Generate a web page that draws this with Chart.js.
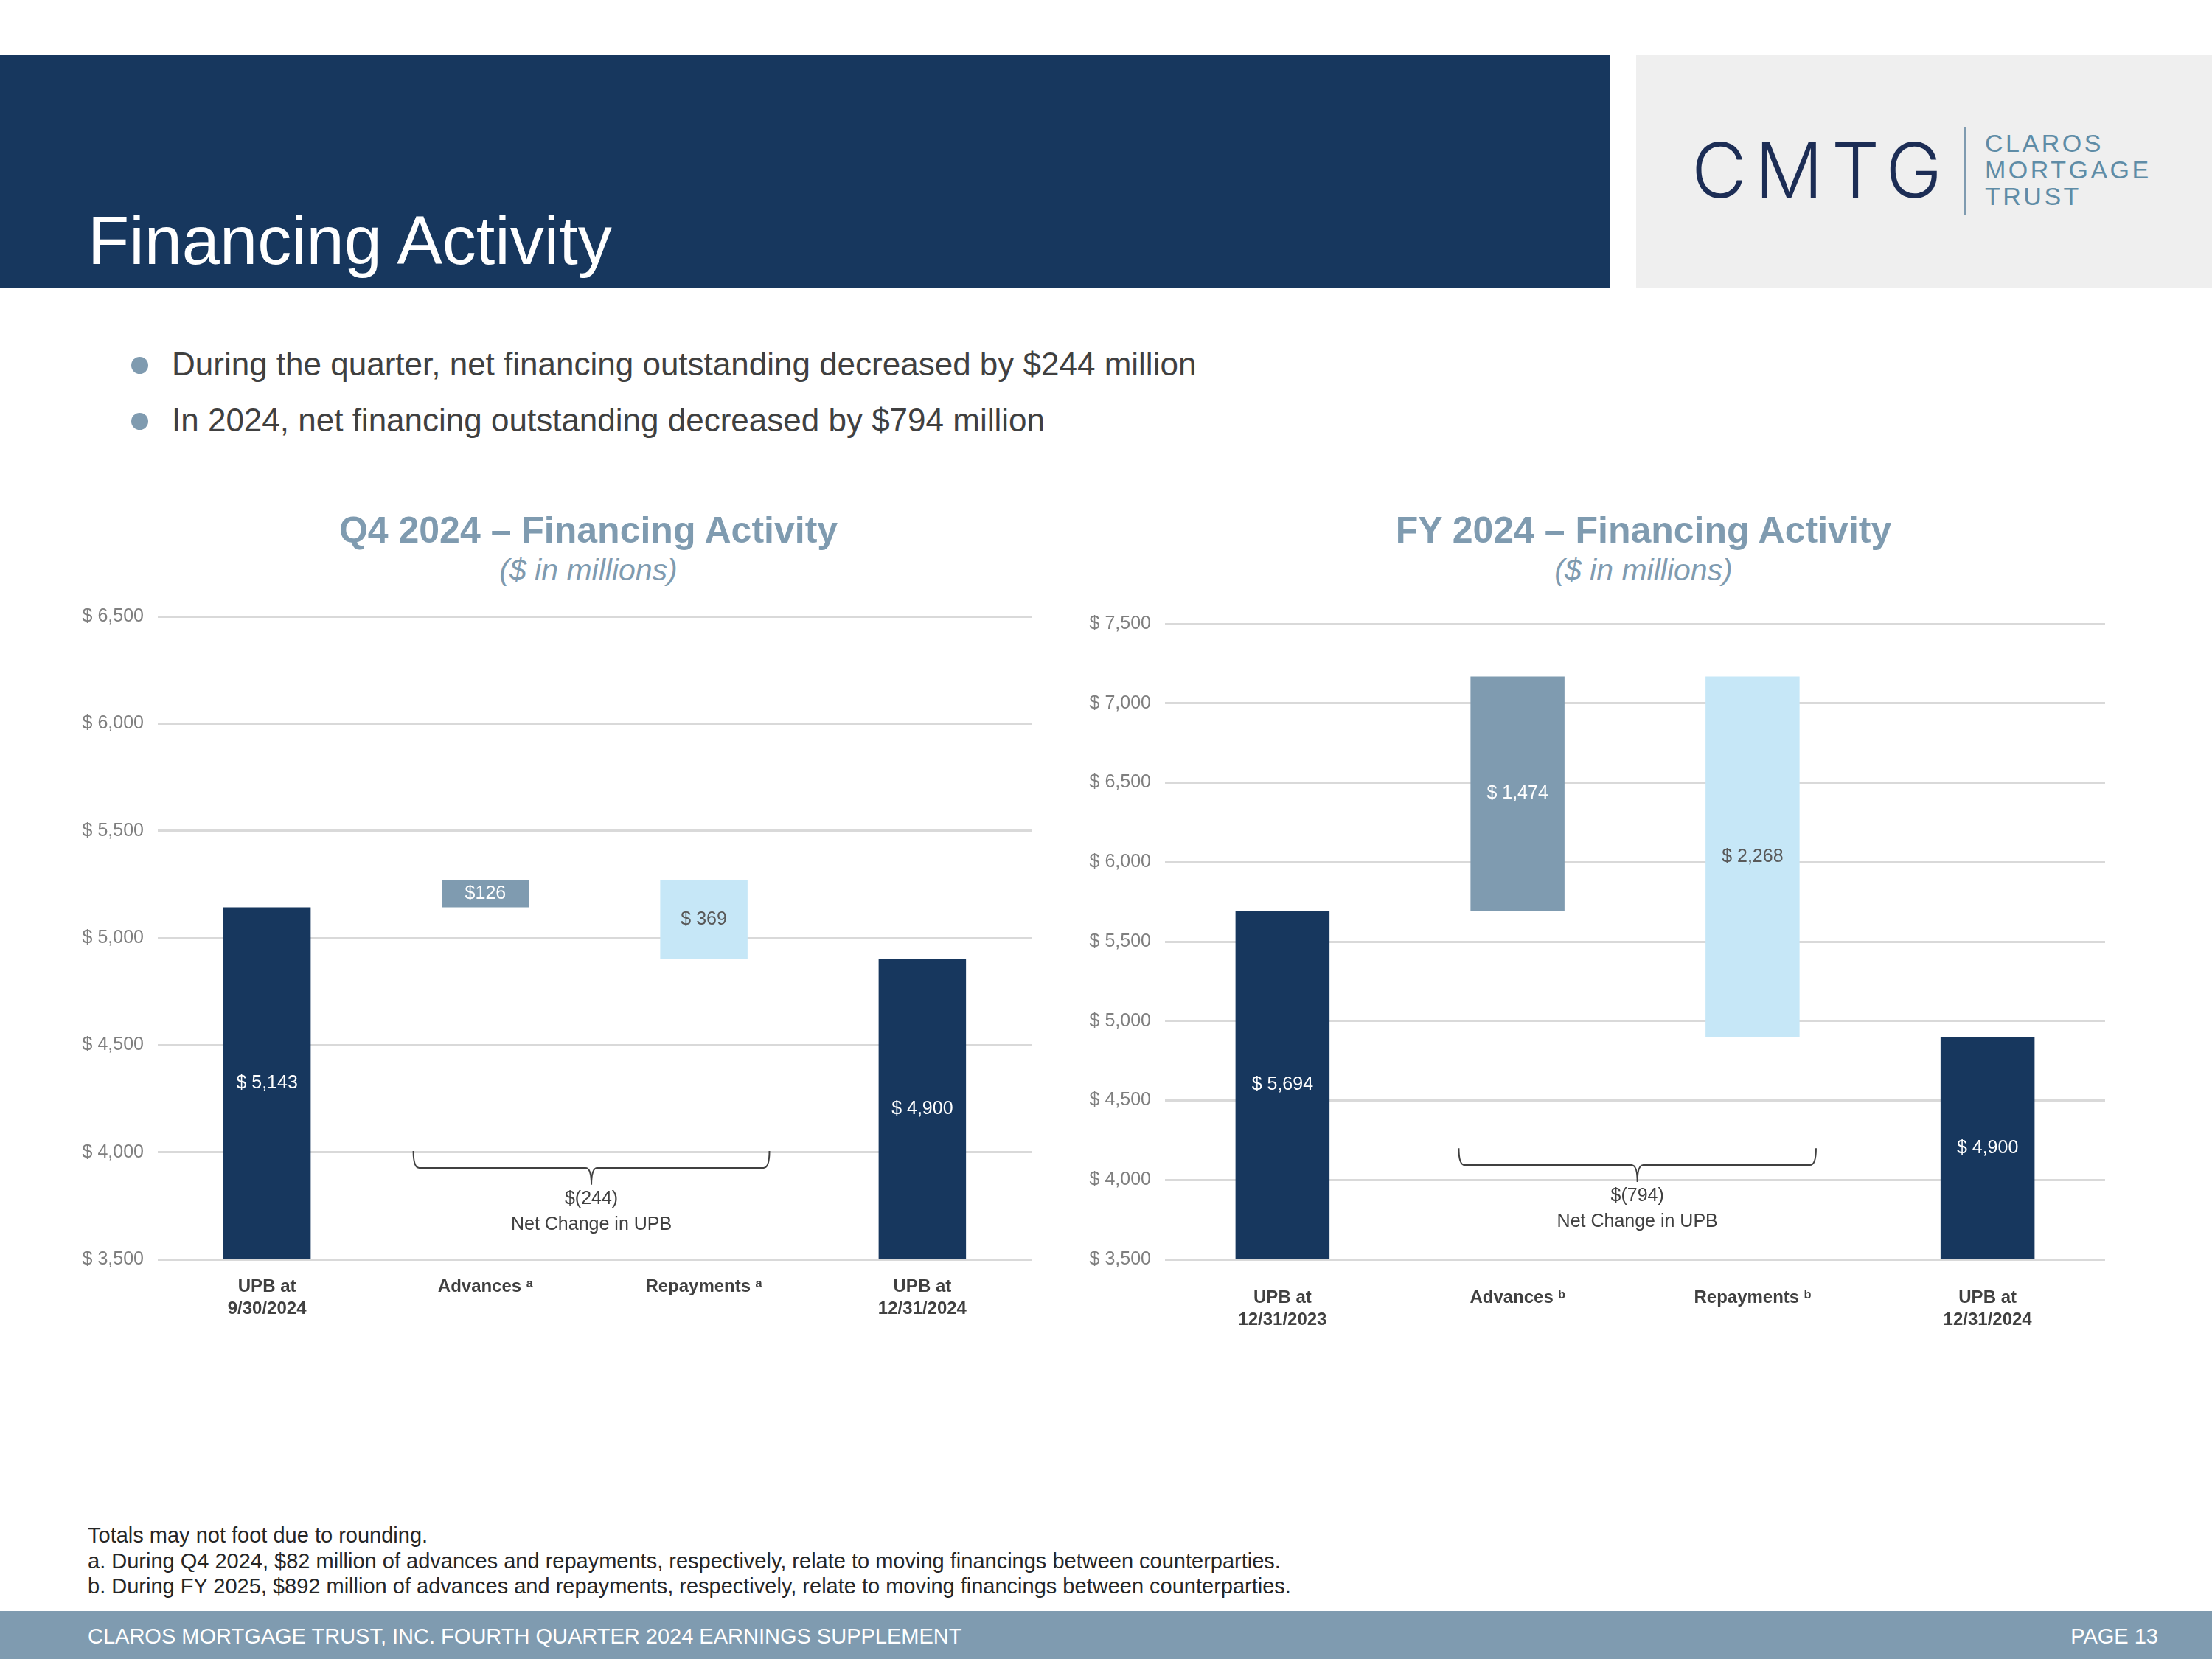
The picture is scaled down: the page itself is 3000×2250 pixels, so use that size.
<!DOCTYPE html>
<html>
<head>
<meta charset="utf-8">
<title>Financing Activity</title>
<script src="https://cdn.jsdelivr.net/npm/chart.js@4.4.1/dist/chart.umd.min.js"></script>
<style>
html,body{margin:0;padding:0;background:#fff;}
body{width:3000px;height:2250px;position:relative;overflow:hidden;font-family:'Liberation Sans',Arial,sans-serif;}
.abs{position:absolute;white-space:nowrap;}
#header{left:0;top:75px;width:2183px;height:315px;background:#17375e;}
#pageTitle{left:119px;top:280px;font-size:92px;line-height:92px;color:#fff;}
#logoBox{left:2219px;top:75px;width:781px;height:315px;background:#efefef;}
#logoMark{left:2294px;top:179px;font-family:Inter,'Liberation Sans',sans-serif;font-weight:300;font-size:103px;line-height:103px;letter-spacing:11px;color:#1c2d55;}
#logoBar{left:2664px;top:172px;width:2px;height:120px;background:#7f9bb0;}
#logoText{left:2692px;top:176px;font-family:'Liberation Sans',Arial,sans-serif;font-size:34px;line-height:36px;letter-spacing:3.5px;color:#5f8ca6;}
.bullet{font-size:44px;line-height:44px;color:#404040;left:233px;}
.dot{width:23px;height:23px;border-radius:50%;background:#7f9bb0;left:178px;}
.ctitle{font-size:50px;line-height:50px;font-weight:bold;color:#7f9bb0;transform:translateX(-50%);}
.csub{font-size:41px;line-height:41px;font-style:italic;color:#7f9bb0;transform:translateX(-50%);}
.note{left:119px;font-size:29px;line-height:29px;color:#262626;}
#footer{left:0;top:2185px;width:3000px;height:65px;background:#7f9bb0;}
.ftext{font-size:29px;line-height:29px;color:#fff;top:2205px;}
canvas{position:absolute;}
</style>
</head>
<body>
<div class="abs" id="header"></div>
<div class="abs" id="pageTitle">Financing Activity</div>
<div class="abs" id="logoBox"></div>
<div class="abs" id="logoMark">CMTG</div>
<div class="abs" id="logoBar"></div>
<div class="abs" id="logoText">CLAROS<br>MORTGAGE<br>TRUST</div>

<div class="abs dot" style="top:484px"></div>
<div class="abs bullet" style="top:472px">During the quarter, net financing outstanding decreased by $244 million</div>
<div class="abs dot" style="top:560px"></div>
<div class="abs bullet" style="top:548px">In 2024, net financing outstanding decreased by $794 million</div>

<div class="abs ctitle" style="left:798px;top:694px">Q4 2024 – Financing Activity</div>
<div class="abs csub" style="left:798px;top:753px">($ in millions)</div>
<div class="abs ctitle" style="left:2229px;top:694px">FY 2024 – Financing Activity</div>
<div class="abs csub" style="left:2229px;top:753px">($ in millions)</div>

<canvas id="q4Chart" width="1310" height="1006" style="left:100px;top:802px"></canvas>
<canvas id="fyChart" width="1406" height="996" style="left:1460px;top:812px"></canvas>

<div class="abs note" style="top:2068px">Totals may not foot due to rounding.</div>
<div class="abs note" style="top:2103px">a. During Q4 2024, $82 million of advances and repayments, respectively, relate to moving financings between counterparties.</div>
<div class="abs note" style="top:2137px">b. During FY 2025, $892 million of advances and repayments, respectively, relate to moving financings between counterparties.</div>

<div class="abs" id="footer"></div>
<div class="abs ftext" style="left:119px">CLAROS MORTGAGE TRUST, INC. FOURTH QUARTER 2024 EARNINGS SUPPLEMENT</div>
<div class="abs ftext" style="right:73px">PAGE 13</div>

<script>
// chart data
const q4Categories = [['UPB at', '9/30/2024'], 'Advances ᵃ', 'Repayments ᵃ', ['UPB at', '12/31/2024']];
const q4Values = [5143, 126, 369, 4900];
const q4Labels = ['$ 5,143', '$126', '$ 369', '$ 4,900'];
const q4Net = '$(244)';
const q4Ticks = [3500, 4000, 4500, 5000, 5500, 6000, 6500];

const fyCategories = [['UPB at', '12/31/2023'], 'Advances ᵇ', 'Repayments ᵇ', ['UPB at', '12/31/2024']];
const fyValues = [5694, 1474, 2268, 4900];
const fyLabels = ['$ 5,694', '$ 1,474', '$ 2,268', '$ 4,900'];
const fyNet = '$(794)';
const fyTicks = [3500, 4000, 4500, 5000, 5500, 6000, 6500, 7000, 7500];

const FONT = "'Liberation Sans', Arial, sans-serif";
const barColors = ['#17375e', '#7f9bb0', '#c6e7f7', '#17375e'];
const labelColors = ['#ffffff', '#ffffff', '#595959', '#ffffff'];

// start, advances up, repayments down, end
function waterfall(vals, floor) {
    const top = vals[0] + vals[1];
    return [[floor, vals[0]], [vals[0], top], [top - vals[2], top], [floor, vals[3]]];
}

const barLabelPlugin = {
    id: 'barLabels',
    afterDatasetsDraw(chart, args, opts) {
        const ctx = chart.ctx;
        ctx.save();
        ctx.font = '25px ' + FONT;
        ctx.textAlign = 'center';
        ctx.textBaseline = 'middle';
        chart.getDatasetMeta(0).data.forEach((bar, i) => {
            ctx.fillStyle = labelColors[i];
            ctx.fillText(opts.labels[i], bar.x, (bar.y + bar.base) / 2);
        });
        ctx.restore();
    }
};

const bracePlugin = {
    id: 'brace',
    afterDatasetsDraw(chart, args, opts) {
        const {ctx, scales: {x, y}} = chart;
        const w = x.getPixelForValue(1) - x.getPixelForValue(0);
        const x0 = x.getPixelForValue(1) + opts.from * w;
        const x1 = x.getPixelForValue(2) + opts.to * w;
        const mid = (x0 + x1) / 2;
        const yTop = y.getPixelForValue(opts.top);
        const yLine = y.getPixelForValue(opts.line);
        const yTip = y.getPixelForValue(opts.tip);
        const r = 8;
        ctx.save();
        ctx.strokeStyle = '#404040';
        ctx.lineWidth = 2;
        ctx.beginPath();
        ctx.moveTo(x0, yTop);
        ctx.quadraticCurveTo(x0, yLine, x0 + r, yLine);
        ctx.lineTo(mid - r, yLine);
        ctx.quadraticCurveTo(mid, yLine, mid, yTip);
        ctx.quadraticCurveTo(mid, yLine, mid + r, yLine);
        ctx.lineTo(x1 - r, yLine);
        ctx.quadraticCurveTo(x1, yLine, x1, yTop);
        ctx.stroke();
        ctx.fillStyle = '#404040';
        ctx.font = '25px ' + FONT;
        ctx.textAlign = 'center';
        ctx.textBaseline = 'middle';
        ctx.fillText(opts.value, mid, yTip + 19);
        ctx.fillText('Net Change in UPB', mid, yTip + 54);
        ctx.restore();
    }
};

function makeChart(id, categories, values, labels, ticks, yWidth, xPad, brace) {
    const min = ticks[0], max = ticks[ticks.length - 1];
    return new Chart(document.getElementById(id), {
        type: 'bar',
        data: {
            labels: categories,
            datasets: [{
                data: waterfall(values, min),
                backgroundColor: barColors,
                borderWidth: 0,
                barPercentage: 0.4,
                categoryPercentage: 1
            }]
        },
        options: {
            responsive: false,
            animation: false,
            layout: {padding: {top: 8, right: 11, left: 0, bottom: 0}},
            plugins: {
                legend: {display: false},
                tooltip: {enabled: false},
                barLabels: {labels: labels},
                brace: brace
            },
            scales: {
                x: {
                    grid: {display: false},
                    border: {display: false},
                    ticks: {color: '#404040', font: {family: FONT, size: 24, weight: 'bold', lineHeight: 1.25}, padding: xPad, maxRotation: 0, autoSkip: false},
                    afterFit(s) { s.height = 100; }
                },
                y: {
                    min: min, max: max,
                    afterBuildTicks(s) { s.ticks = ticks.map(v => ({value: v})); },
                    ticks: {color: '#7f7f7f', font: {family: FONT, size: 25}, padding: 19,
                        callback: v => '$ ' + v.toLocaleString('en-US')},
                    grid: {color: '#d9d9d9', lineWidth: 3, drawTicks: false},
                    border: {display: false},
                    afterFit(s) { s.width = yWidth; }
                }
            }
        },
        plugins: [barLabelPlugin, bracePlugin]
    });
}

makeChart('q4Chart', q4Categories, q4Values, q4Labels, q4Ticks, 114, 14,
    {top: 4006, line: 3927, tip: 3848, from: -0.33, to: 0.30, value: q4Net});
makeChart('fyChart', fyCategories, fyValues, fyLabels, fyTicks, 120, 29,
    {top: 4200, line: 4094, tip: 3987, from: -0.25, to: 0.27, value: fyNet});
</script>
</body>
</html>
